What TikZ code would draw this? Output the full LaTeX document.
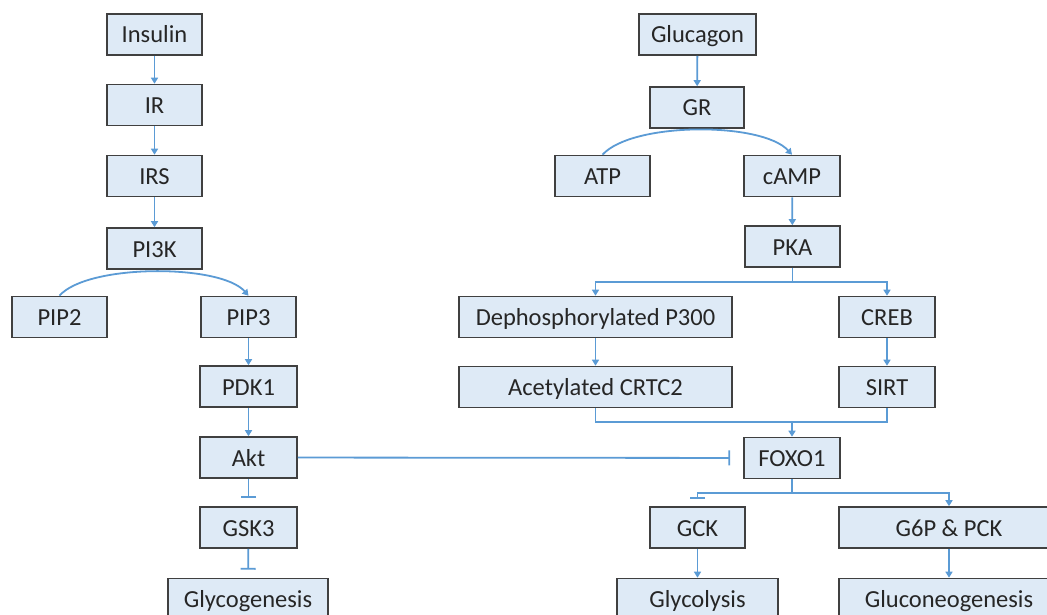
\documentclass[tikz,border=0pt]{standalone}
\usepackage{fontspec}
\setmainfont{Carlito}
\usetikzlibrary{arrows.meta}
\definecolor{boxfill}{RGB}{222,234,246}
\definecolor{boxline}{RGB}{64,64,64}
\definecolor{conn}{RGB}{91,155,213}
\begin{document}
\begin{tikzpicture}[x=1pt,y=-1pt,
  box/.style={draw=boxline, fill=boxfill, line width=1.6pt, minimum height=41pt, inner sep=0pt,
    text height=18pt, text depth=1pt, text=black!85, font=\fontsize{24.5}{28}\selectfont},
  link/.style={draw=conn, line width=1.8pt},
  act/.style={link, -{Triangle[length=6pt,width=7pt]}},
  inh/.style={link, -{Bar[width=15pt,line width=1.8pt]}},
]
\fill[white] (0,0) rectangle (1047,615);
\useasboundingbox (0,0) rectangle (1047,615);
\clip (0,0) rectangle (1047,615);
% insulin branch
\node[box, minimum width=95pt] (ins) at (154.5,34.5) {Insulin};
\node[box, minimum width=95pt] (ir) at (154.5,105) {IR};
\node[box, minimum width=95pt] (irs) at (154.5,176) {IRS};
\node[box, minimum width=95pt] (pi3k) at (154.5,248.5) {PI3K};
\node[box, minimum width=95pt] (pip2) at (59.5,317) {PIP2};
\node[box, minimum width=95pt] (pip3) at (248.5,317) {PIP3};
\node[box, minimum width=97pt] (pdk1) at (248.5,386.5) {PDK1};
\node[box, minimum width=97pt] (akt) at (248.5,457.5) {Akt};
\node[box, minimum width=97pt] (gsk3) at (248.5,527.5) {GSK3};
\node[box, minimum width=160pt] (glyg) at (248,599) {Glycogenesis};
% glucagon branch
\node[box, minimum width=117pt] (glc) at (697.5,34.5) {Glucagon};
\node[box, minimum width=94pt] (gr) at (697,107.5) {GR};
\node[box, minimum width=95pt] (atp) at (602.5,176) {ATP};
\node[box, minimum width=96pt] (camp) at (792,176) {cAMP};
\node[box, minimum width=95pt] (pka) at (792.5,246.5) {PKA};
\node[box, minimum width=273pt] (deph) at (595.5,317) {Dephosphorylated P300};
\node[box, minimum width=273pt] (acet) at (595.5,387) {Acetylated CRTC2};
\node[box, minimum width=96pt] (creb) at (887,317) {CREB};
\node[box, minimum width=96pt] (sirt) at (887,387) {SIRT};
\node[box, minimum width=96pt] (foxo) at (792,458) {FOXO1};
\node[box, minimum width=95pt] (gck) at (697.5,527.5) {GCK};
\node[box, minimum width=220pt] (g6p) at (949,527.5) {G6P \& PCK};
\node[box, minimum width=161pt] (glyl) at (697.5,599) {Glycolysis};
\node[box, minimum width=220pt] (gng) at (949,599) {Gluconeogenesis};
% junctions
\coordinate (pkaj) at (792.5,282);
\coordinate (inj) at (792,422);
\coordinate (foxj) at (792,493);
% insulin connectors
\draw[act] (ins) -- (ir);
\draw[act] (ir) -- (irs);
\draw[act] (irs) -- (pi3k);
\draw[act] (pip2.north) .. controls +(28,-32) and +(-28,-32) .. (pip3.north);
\draw[act] (pip3) -- (pdk1);
\draw[act] (pdk1) -- (akt);
\draw[inh, shorten >=8pt] (akt) -- (gsk3);
\draw[inh, shorten >=8pt] (gsk3) -- (glyg);
\draw[inh, shorten >=13pt] (akt) -- (foxo);
% glucagon connectors
\draw[act] (glc) -- (gr);
\draw[act] (atp.north) .. controls +(30,-33) and +(-30,-33) .. (camp.north);
\draw[act] (camp) -- (pka);
\draw[link] (pka.south) -- (pkaj);
\draw[act] (pkaj) -| (deph.north);
\draw[act] (pkaj) -| (creb.north);
\draw[act] (deph) -- (acet);
\draw[act] (creb) -- (sirt);
\draw[link] (acet.south) |- (inj);
\draw[link] (sirt.south) |- (inj);
\draw[act] (inj) -- (foxo.north);
\draw[link] (foxo.south) -- (foxj);
\draw[inh, shorten >=7pt] (foxj) -| (gck.north);
\draw[act] (foxj) -| (g6p.north);
\draw[act] (gck) -- (glyl);
\draw[act] (g6p) -- (gng);
\end{tikzpicture}
\end{document}
